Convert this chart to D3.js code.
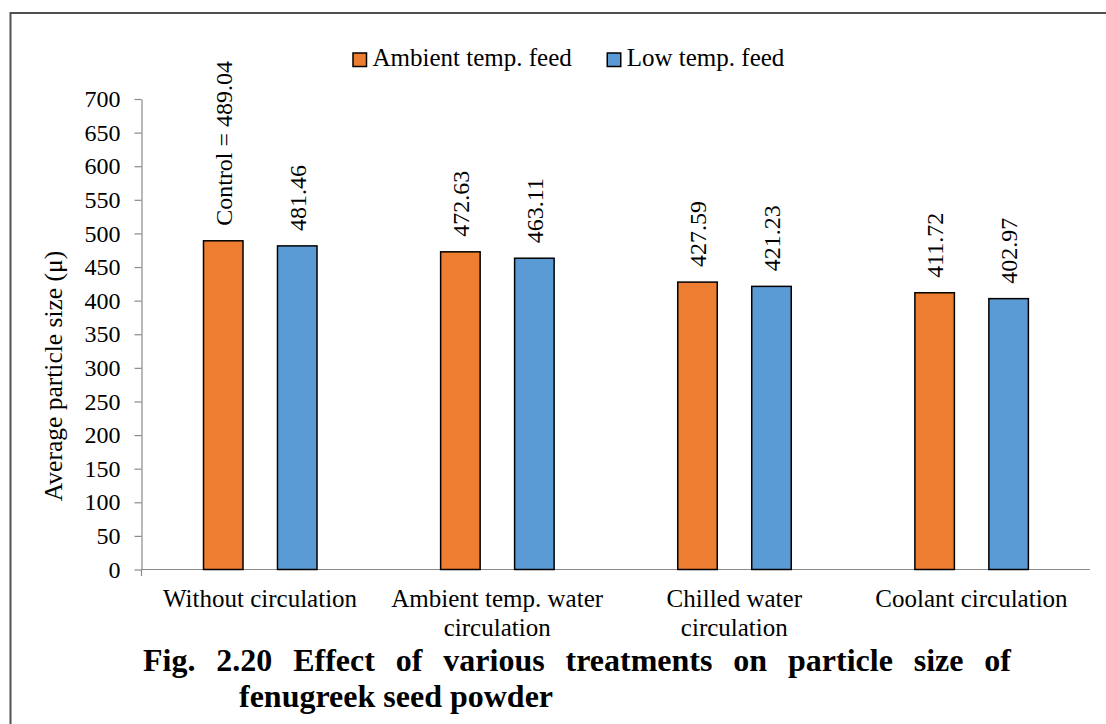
<!DOCTYPE html>
<html>
<head>
<meta charset="utf-8">
<script src="https://cdn.jsdelivr.net/npm/d3@7"></script>
<style>
  html, body { margin: 0; padding: 0; background: #fff; }
  svg { display: block; }
  text { font-family: "Liberation Serif", "Times New Roman", serif; fill: #000; }
</style>
</head>
<body>
<svg id="chart" width="1106" height="724"></svg>
<script>
// Average particle size (μ) of fenugreek seed powder by grinding treatment
const categories = [
  "Without circulation",
  "Ambient temp. water circulation",
  "Chilled water circulation",
  "Coolant circulation"
];
const seriesNames = ["Ambient temp. feed", "Low temp. feed"];
const ambientFeed = [489.04, 472.63, 427.59, 411.72];
const lowTempFeed = [481.46, 463.11, 421.23, 402.97];
const yTicks = [0, 50, 100, 150, 200, 250, 300, 350, 400, 450, 500, 550, 600, 650, 700];
const yTitle = "Average particle size (μ)";
const controlPrefix = "Control = ";
const captionLines = [
  "Fig. 2.20 Effect of various treatments on particle size of",
  "fenugreek seed powder"
];

const colors = ["#ED7D31", "#5B9BD5"];
const seriesValues = [ambientFeed, lowTempFeed];

const svg = d3.select("#chart");

// outer frame (only the top and left edges fall inside the page)
svg.append("rect")
  .attr("x", 10.5).attr("y", 13)
  .attr("width", 1300).attr("height", 900)
  .attr("fill", "none").attr("stroke", "#505050").attr("stroke-width", 2);

const plot = { left: 141.5, right: 1090, top: 99, bottom: 569.5 };

const y = d3.scaleLinear().domain([0, 700]).range([plot.bottom, plot.top]);
const x0 = d3.scaleBand().domain(categories).range([plot.left, plot.right]).padding(0);
const x1 = d3.scaleBand().domain(seriesNames).range([62, 175.5]).paddingInner(0.466);

// y axis
const yAxis = svg.append("g")
  .attr("transform", `translate(${plot.left},0)`)
  .call(d3.axisLeft(y).tickValues(yTicks).tickSize(7).tickSizeOuter(0).tickPadding(14));
yAxis.select(".domain").attr("stroke", "#8a8a8a").attr("stroke-width", 1.2);
yAxis.selectAll(".tick line").attr("stroke", "#8a8a8a").attr("stroke-width", 1.2);
yAxis.selectAll(".tick text")
  .style("font-family", '"Liberation Serif", "Times New Roman", serif')
  .style("font-size", "24px").attr("fill", "#000");

// x axis line and origin tick
svg.append("line")
  .attr("x1", plot.left).attr("x2", plot.right)
  .attr("y1", plot.bottom).attr("y2", plot.bottom)
  .attr("stroke", "#8a8a8a").attr("stroke-width", 1.2);
svg.append("line")
  .attr("x1", plot.left).attr("x2", plot.left)
  .attr("y1", plot.bottom).attr("y2", plot.bottom + 6.5)
  .attr("stroke", "#8a8a8a").attr("stroke-width", 1.2);

// bars
const rows = [];
categories.forEach((c, i) => {
  seriesNames.forEach((s, j) => {
    rows.push({ cat: c, series: s, j, value: seriesValues[j][i], first: i === 0 && j === 0 });
  });
});

const bars = svg.append("g");
bars.selectAll("rect")
  .data(rows)
  .join("rect")
  .attr("x", d => x0(d.cat) + x1(d.series))
  .attr("y", d => y(d.value))
  .attr("width", x1.bandwidth())
  .attr("height", d => y(0) - y(d.value))
  .attr("fill", d => colors[d.j])
  .attr("stroke", "#000")
  .attr("stroke-width", 1.5);

// value labels, rotated above each bar
const fmt = d3.format(".2f");
svg.append("g").selectAll("text")
  .data(rows)
  .join("text")
  .attr("transform", d => {
    const cx = x0(d.cat) + x1(d.series) + x1.bandwidth() / 2;
    return `translate(${cx},${y(d.value) - 15}) rotate(-90)`;
  })
  .attr("dy", "0.35em")
  .attr("text-anchor", "start")
  .style("font-size", "24px")
  .text(d => (d.first ? controlPrefix : "") + fmt(d.value));

// category labels, wrapped to the band width
const catG = svg.append("g");
categories.forEach(c => {
  const cx = x0(c) + x0.bandwidth() / 2;
  const t = catG.append("text")
    .attr("x", cx).attr("y", 607)
    .attr("text-anchor", "middle")
    .style("font-size", "25px");
  const words = c.split(" ");
  let line = [];
  let lineNo = 0;
  let tspan = t.append("tspan").attr("x", cx).attr("y", 607);
  words.forEach(w => {
    line.push(w);
    tspan.text(line.join(" "));
    if (tspan.node().getComputedTextLength() > 228 && line.length > 1) {
      line.pop();
      tspan.text(line.join(" "));
      line = [w];
      lineNo += 1;
      tspan = t.append("tspan").attr("x", cx).attr("y", 607 + lineNo * 29).text(w);
    }
  });
});

// y axis title
svg.append("text")
  .attr("transform", "translate(62,376) rotate(-90)")
  .attr("text-anchor", "middle")
  .style("font-size", "25.5px")
  .text(yTitle);

// legend
const legend = svg.append("g");
let lx = 353;
seriesNames.forEach((s, j) => {
  legend.append("rect")
    .attr("x", lx).attr("y", 53)
    .attr("width", 13.5).attr("height", 13.5)
    .attr("fill", colors[j]).attr("stroke", "#000").attr("stroke-width", 1.5);
  const t = legend.append("text")
    .attr("x", lx + 19.5).attr("y", 66)
    .style("font-size", "25px")
    .text(s);
  lx = lx + 19.5 + t.node().getComputedTextLength() + 35.5;
});

// caption: first line justified, second line indented
const cap = svg.append("g").style("font-weight", "bold").style("font-size", "32px");
(function justify(textLine, x1j, x2j, baseline) {
  const words = textLine.split(" ");
  const widths = words.map(w => {
    const t = cap.append("text").text(w);
    const wd = t.node().getComputedTextLength();
    t.remove();
    return wd;
  });
  const total = d3.sum(widths);
  const gap = (x2j - x1j - total) / (words.length - 1);
  let cx = x1j;
  words.forEach((w, i) => {
    cap.append("text").attr("x", cx).attr("y", baseline).text(w);
    cx += widths[i] + gap;
  });
})(captionLines[0], 143, 1011, 671);
cap.append("text").attr("x", 239).attr("y", 707).text(captionLines[1]);
</script>
</body>
</html>
